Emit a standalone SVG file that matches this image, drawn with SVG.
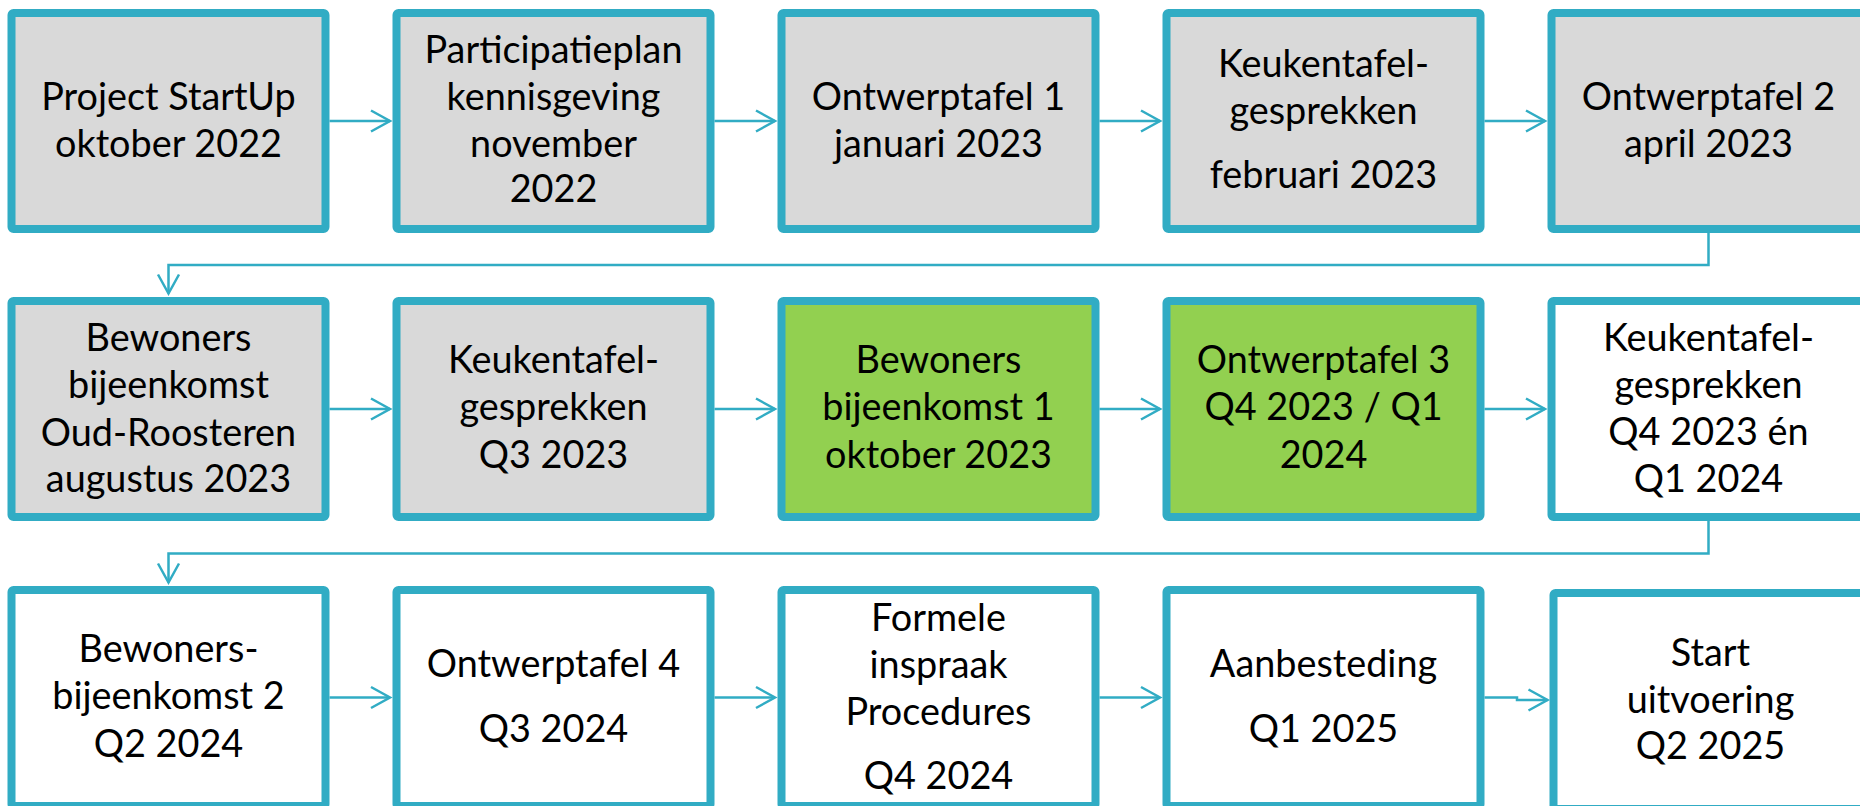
<svg xmlns="http://www.w3.org/2000/svg" width="1860" height="806" viewBox="0 0 1860 806">
<style>
.box{stroke:#31ACC4;stroke-width:8}
.gray{fill:#D9D9D9}
.green{fill:#92D050}
.white{fill:#FFFFFF}
.t{font-family:Lato,"Liberation Sans",sans-serif;font-size:37.8px;fill:#000;text-anchor:middle}
.c{fill:none;stroke:#31ACC4;stroke-width:2.5}
</style>
<defs>
<marker id="ah" markerUnits="userSpaceOnUse" markerWidth="24" markerHeight="26" refX="21" refY="13" orient="auto" overflow="visible">
<path d="M2,2.5 L21,13 L2,23.5" fill="none" stroke="#31ACC4" stroke-width="2.5"/>
</marker>
</defs>
<rect width="1860" height="806" fill="#FFFFFF"/>
<g id="connectors">
<path class="c" d="M329.5 121 H390" marker-end="url(#ah)"/>
<path class="c" d="M714.5 121 H775" marker-end="url(#ah)"/>
<path class="c" d="M1099.5 121 H1160" marker-end="url(#ah)"/>
<path class="c" d="M1484.5 121 H1545" marker-end="url(#ah)"/>
<path class="c" d="M1708.5 233 V265 H168.5 V293.5" marker-end="url(#ah)"/>
<path class="c" d="M329.5 409 H390" marker-end="url(#ah)"/>
<path class="c" d="M714.5 409 H775" marker-end="url(#ah)"/>
<path class="c" d="M1099.5 409 H1160" marker-end="url(#ah)"/>
<path class="c" d="M1484.5 409 H1545" marker-end="url(#ah)"/>
<path class="c" d="M1708.5 521 V553.5 H168.5 V582.5" marker-end="url(#ah)"/>
<path class="c" d="M329.5 697.5 H390" marker-end="url(#ah)"/>
<path class="c" d="M714.5 697.5 H775" marker-end="url(#ah)"/>
<path class="c" d="M1099.5 697.5 H1160" marker-end="url(#ah)"/>
<path class="c" d="M1484.5 697.5 H1517 V700 H1547.5" marker-end="url(#ah)"/>
</g>
<g id="n1"><rect class="box gray" x="11.5" y="13" width="314" height="216" rx="2"/>
<text class="t" x="168.5" y="110">Project StartUp</text><text class="t" x="168.5" y="156.7">oktober 2022</text></g>
<g id="n2"><rect class="box gray" x="396.5" y="13" width="314" height="216" rx="2"/>
<text class="t" x="553.5" y="63.3">Participatieplan</text><text class="t" x="553.5" y="110">kennisgeving</text><text class="t" x="553.5" y="156.7">november</text><text class="t" x="553.5" y="202.3">2022</text></g>
<g id="n3"><rect class="box gray" x="781.5" y="13" width="314" height="216" rx="2"/>
<text class="t" x="938.5" y="110">Ontwerptafel 1</text><text class="t" x="938.5" y="156.7">januari 2023</text></g>
<g id="n4"><rect class="box gray" x="1166.5" y="13" width="314" height="216" rx="2"/>
<text class="t" x="1323.5" y="76.7">Keukentafel-</text><text class="t" x="1323.5" y="124">gesprekken</text><text class="t" x="1323.5" y="188.3">februari 2023</text></g>
<g id="n5"><rect class="box gray" x="1551.5" y="13" width="314" height="216" rx="2"/>
<text class="t" x="1708.5" y="110">Ontwerptafel 2</text><text class="t" x="1708.5" y="156.7">april 2023</text></g>
<g id="n6"><rect class="box gray" x="11.5" y="301" width="314" height="216" rx="2"/>
<text class="t" x="168.5" y="350.7">Bewoners</text><text class="t" x="168.5" y="398.3">bijeenkomst</text><text class="t" x="168.5" y="445.7">Oud-Roosteren</text><text class="t" x="168.5" y="492.3">augustus 2023</text></g>
<g id="n7"><rect class="box gray" x="396.5" y="301" width="314" height="216" rx="2"/>
<text class="t" x="553.5" y="373.3">Keukentafel-</text><text class="t" x="553.5" y="420">gesprekken</text><text class="t" x="553.5" y="467.5">Q3 2023</text></g>
<g id="n8"><rect class="box green" x="781.5" y="301" width="314" height="216" rx="2"/>
<text class="t" x="938.5" y="373.3">Bewoners</text><text class="t" x="938.5" y="420">bijeenkomst 1</text><text class="t" x="938.5" y="467.5">oktober 2023</text></g>
<g id="n9"><rect class="box green" x="1166.5" y="301" width="314" height="216" rx="2"/>
<text class="t" x="1323.5" y="373.3">Ontwerptafel 3</text><text class="t" x="1323.5" y="420">Q4 2023 / Q1</text><text class="t" x="1323.5" y="467.5">2024</text></g>
<g id="n10"><rect class="box white" x="1551.5" y="301" width="314" height="216" rx="2"/>
<text class="t" x="1708.5" y="350.7">Keukentafel-</text><text class="t" x="1708.5" y="398.3">gesprekken</text><text class="t" x="1708.5" y="445">Q4 2023 én</text><text class="t" x="1708.5" y="491.7">Q1 2024</text></g>
<g id="n11"><rect class="box white" x="11.5" y="590" width="314" height="216" rx="2"/>
<text class="t" x="168.5" y="662.3">Bewoners-</text><text class="t" x="168.5" y="709.3">bijeenkomst 2</text><text class="t" x="168.5" y="756.7">Q2 2024</text></g>
<g id="n12"><rect class="box white" x="396.5" y="590" width="314" height="216" rx="2"/>
<text class="t" x="553.5" y="676.7">Ontwerptafel 4</text><text class="t" x="553.5" y="741.7">Q3 2024</text></g>
<g id="n13"><rect class="box white" x="781.5" y="590" width="314" height="216" rx="2"/>
<text class="t" x="938.5" y="631">Formele</text><text class="t" x="938.5" y="678">inspraak</text><text class="t" x="938.5" y="725">Procedures</text><text class="t" x="938.5" y="789">Q4 2024</text></g>
<g id="n14"><rect class="box white" x="1166.5" y="590" width="314" height="216" rx="2"/>
<text class="t" x="1323.5" y="676.7">Aanbesteding</text><text class="t" x="1323.5" y="741.7">Q1 2025</text></g>
<g id="n15"><rect class="box white" x="1553.5" y="593" width="314" height="216" rx="2"/>
<text class="t" x="1710.5" y="666">Start</text><text class="t" x="1710.5" y="712.7">uitvoering</text><text class="t" x="1710.5" y="759">Q2 2025</text></g>
</svg>
